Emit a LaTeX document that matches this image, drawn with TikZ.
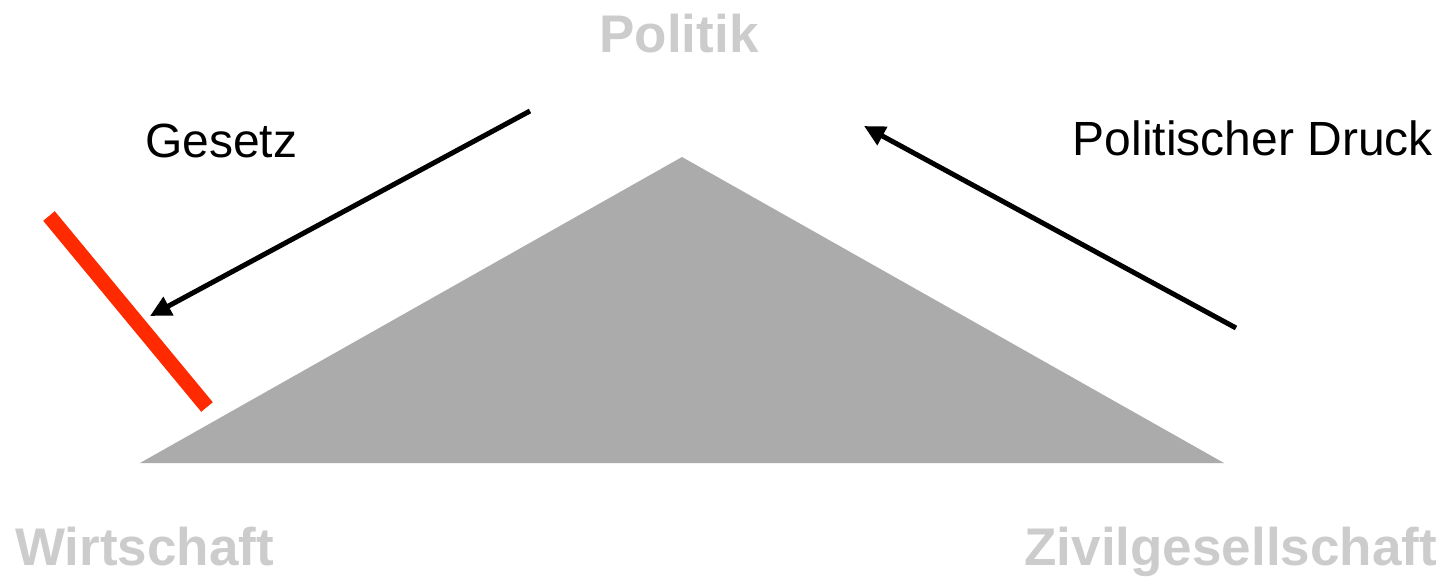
\documentclass[tikz,border=0pt]{standalone}
\usepackage{fontspec}
\setmainfont{Liberation Sans}
\usetikzlibrary{arrows.meta}
\definecolor{lbl}{HTML}{CCCCCC}
\definecolor{tri}{HTML}{ABABAB}
\definecolor{redbar}{HTML}{FF2A00}
\begin{document}
\begin{tikzpicture}[x=1pt,y=-1pt,
  corner/.style={inner sep=0pt, text=lbl, font=\fontsize{53}{60}\selectfont\bfseries},
  lab/.style={inner sep=0pt, text=black, font=\fontsize{48}{56}\selectfont},
  arr/.style={line width=5pt, -{Triangle[length=21pt,width=20pt]}}]
\useasboundingbox (0,0) rectangle (1444,576);
\fill[tri] (682,157) -- (140,463) -- (1224,463) -- cycle;
\draw[redbar, line width=15pt] (49,216) -- (207,407);
\node[corner, anchor=base] (pol) at (679,52) {Politik};
\node[corner, anchor=base west] (wir) at (15,565) {Wirtschaft};
\node[corner, anchor=base east] (ziv) at (1437,565) {Zivilgesellschaft};
\node[lab, anchor=base west] (ges) at (145,157) {Gesetz};
\node[lab, anchor=base east] (dru) at (1433,155) {Politischer Druck};
\coordinate (g1) at (530,111);
\coordinate (g2) at (150,316);
\coordinate (d1) at (1236,328);
\coordinate (d2) at (864,126);
\draw[arr] (g1) -- (g2);
\draw[arr] (d1) -- (d2);
\end{tikzpicture}
\end{document}
